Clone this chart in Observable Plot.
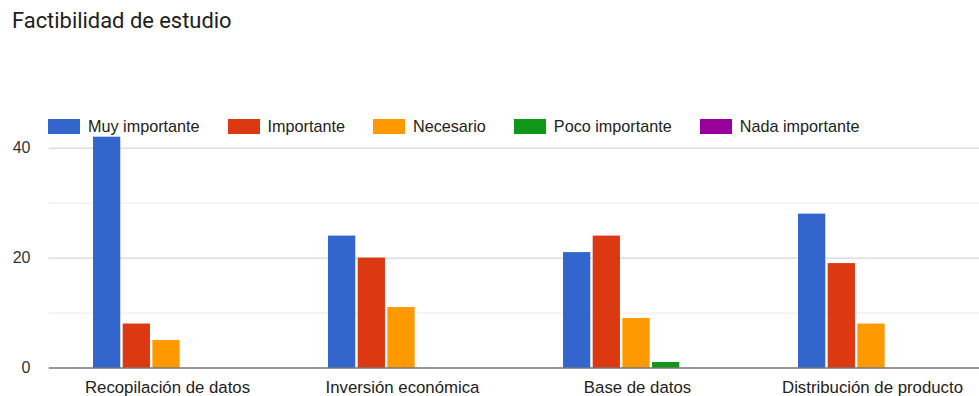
<!DOCTYPE html>
<html><head><meta charset="utf-8">
<script src="https://cdn.jsdelivr.net/npm/d3@7"></script>
<script src="https://cdn.jsdelivr.net/npm/@observablehq/plot@0.6"></script>
<style>
body{margin:0;background:#fff;overflow:hidden;}
#title{height:40px;box-sizing:border-box;padding:8px 0 0 12px;font-family:Roboto,sans-serif;font-size:21.9px;color:#202124;white-space:nowrap;}
#wrap{position:relative;width:979px;height:356px;}
#legend{position:absolute;left:48px;top:77px;display:flex;align-items:center;font-family:"Liberation Sans",Arial,sans-serif;font-size:16.2px;color:#222;white-space:nowrap;}
.item{display:flex;align-items:center;margin-right:28px;}
.sw{width:32px;height:15px;margin-right:8px;}
</style></head><body>
<div id="title">Factibilidad de estudio</div>
<div id="wrap"><div id="legend"></div></div>
<script>
const categories = ["Recopilación de datos", "Inversión económica", "Base de datos", "Distribución de producto"];
const series = ["Muy importante", "Importante", "Necesario", "Poco importante", "Nada importante"];
const colors = ["#3366cc", "#dc3912", "#ff9900", "#109618", "#990099"];
const muyImportante = [42, 24, 21, 28];
const importante = [8, 20, 24, 19];
const necesario = [5, 11, 9, 8];
const pocoImportante = [0, 0, 1, 0];
const nadaImportante = [0, 0, 0, 0];
const yTicks = [0, 20, 40];
const gridMajor = [20, 40];
const gridMinor = [10, 30];

const values = [muyImportante, importante, necesario, pocoImportante, nadaImportante];
const data = categories.flatMap((c, ci) => series.map((s, si) => ({category: c, series: s, value: values[si][ci]})));

const xOpts = {type: "band", domain: categories, range: [48.7, 991], paddingInner: 0.37, paddingOuter: 0.185};
const bw = Plot.scale({x: xOpts}).bandwidth;
const slot = bw / series.length;
const gap = 2;

const plot = Plot.plot({
  width: 979,
  height: 356,
  marginLeft: 48.7,
  marginRight: 0,
  marginTop: 85.7,
  marginBottom: 28.5,
  style: {fontFamily: "'Liberation Sans', Arial, sans-serif", color: "#333", background: "#fff"},
  x: {...xOpts, label: null},
  y: {domain: [0, 44], label: null},
  color: {domain: series, range: colors},
  marks: [
    Plot.ruleY(gridMinor, {stroke: "#ebebeb", strokeWidth: 1}),
    Plot.ruleY(gridMajor, {stroke: "#cccccc", strokeWidth: 1}),
    ...series.map((s, i) => Plot.barY(data.filter(d => d.series === s), {
      x: "category", y: "value", fill: "series",
      insetLeft: i * slot, insetRight: (series.length - 1 - i) * slot + gap
    })),
    Plot.ruleY([0], {stroke: "#333", strokeWidth: 1.2}),
    Plot.axisY(yTicks, {tickSize: 0, tickPadding: 18.7, fontSize: 16, fill: "#333", label: null}),
    Plot.axisX({tickSize: 0, tickPadding: 13, fontSize: 16.8, fill: "#222", label: null})
  ]
});
document.getElementById("wrap").prepend(plot);

const color = plot.scale("color");
const legend = d3.select("#legend");
series.forEach((s, i) => {
  const item = legend.append("div").attr("class", "item");
  item.append("div").attr("class", "sw").style("background", color && color.apply ? color.apply(s) : colors[i]);
  item.append("span").text(s);
});
</script>
</body></html>
